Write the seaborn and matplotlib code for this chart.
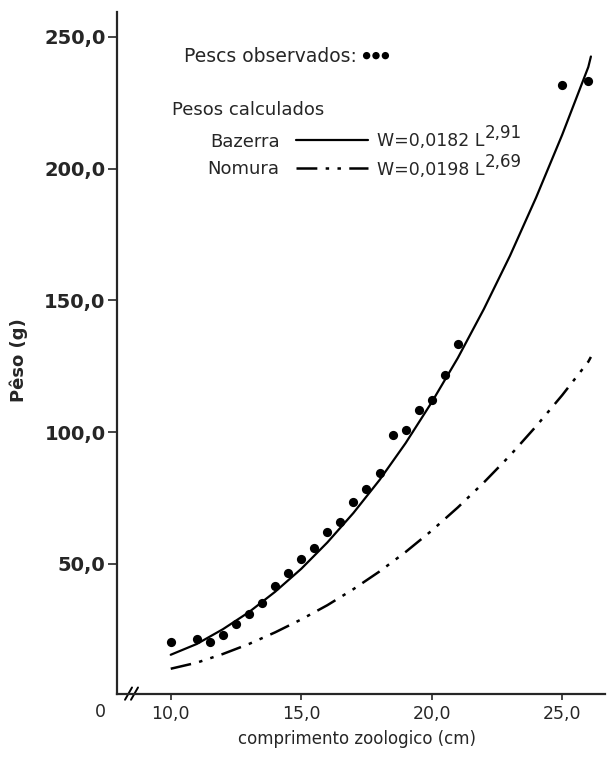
import matplotlib
matplotlib.use("Agg")
import matplotlib.pyplot as plt
import seaborn as sns

# observed fish (length in cm, weight in g)
obs_len = [10.0, 11.0, 11.5, 12.0, 12.5, 13.0, 13.5, 14.0, 14.5, 15.0, 15.5, 16.0,
           16.5, 17.0, 17.5, 18.0, 18.5, 19.0, 19.5, 20.0, 20.5, 21.0, 25.0, 26.0]
obs_peso = [20.3, 21.6, 20.4, 23.1, 27.2, 31.0, 35.3, 41.7, 46.7, 51.8, 56.0, 61.9,
            66.0, 73.6, 78.3, 84.4, 98.7, 100.6, 108.2, 112.2, 121.8, 133.3, 231.7, 233.2]

# calculated curves
curve_len = [10, 11, 12, 13, 14, 15, 16, 17, 18, 19, 20, 21, 22, 23, 24, 25, 26, 26.1]
bazerra = [15.5, 19.6, 25.2, 31.7, 39.4, 48.1, 58.1, 69.3, 81.8, 95.8, 111.3, 128.1,
           146.7, 166.9, 189.0, 212.8, 238.5, 242.5]
nomura = [10.2, 12.5, 15.8, 19.6, 24.0, 28.9, 34.3, 40.4, 47.1, 54.5, 62.6, 71.4,
          80.9, 91.1, 102.2, 114.0, 126.7, 128.5]

x_ticks = [10, 15, 20, 25]
x_ticklabels = ["10,0", "15,0", "20,0", "25,0"]
y_ticks = [50, 100, 150, 200, 250]
y_ticklabels = ["50,0", "100,0", "150,0", "200,0", "250,0"]

sns.set_style("ticks")
plt.rcParams["font.family"] = ["DejaVu Sans"]
plt.rcParams["lines.scale_dashes"] = False

W, H = 608, 759
fig = plt.figure(figsize=(W / 100, H / 100), dpi=100)
ax = fig.add_axes([116.7 / W, 64.7 / H, (605 - 116.7) / W, (747.3 - 64.7) / H])

sns.scatterplot(x=obs_len, y=obs_peso, ax=ax, color="black", s=44, linewidth=0)
sns.lineplot(x=curve_len, y=bazerra, ax=ax, color="black", lw=1.6, sort=False)
sns.lineplot(x=curve_len, y=nomura, ax=ax, color="black", lw=1.8, sort=False,
             linestyle=(0, (15, 6, 2.5, 6, 2.5, 6)))

ax.set_xlim(7.93, 26.64)
ax.set_ylim(0.5, 259.5)
sns.despine(ax=ax)
for s in ["left", "bottom"]:
    ax.spines[s].set_linewidth(1.6)

ax.set_xticks(x_ticks)
ax.set_xticklabels(x_ticklabels, fontsize=12.5)
ax.set_yticks(y_ticks)
ax.set_yticklabels(y_ticklabels, fontsize=14, fontweight="bold")
ax.tick_params(axis="y", direction="out", length=6.5, width=1.2, pad=1.5)
ax.tick_params(axis="x", direction="out", length=4, width=1.2, pad=3.5)

ax.set_xlabel("comprimento zoologico (cm)", fontsize=12)
ax.xaxis.set_label_coords(0.492, -0.052)
ax.set_ylabel("Pêso (g)", fontsize=13, fontweight="bold")
ax.yaxis.set_label_coords(-0.182, 0.49)

# "0" at the origin and the axis break
fig.text(100.7 / W, 1 - 711.7 / H, "0", fontsize=12.5, ha="center", va="center")
for dx in (0, 6):
    ax.plot([(125 + dx - 116.7) / 488.3, (132 + dx - 116.7) / 488.3],
            [-0.008, 0.010], transform=ax.transAxes, color="black", lw=1.4, clip_on=False)

# legends
sc = ax.collections[0]
leg1 = ax.legend(handles=[sc], labels=["Pescs observados:"], markerfirst=False,
                 scatterpoints=3, scatteryoffsets=[0.5], frameon=False,
                 loc="center right", bbox_to_anchor=(391 / W, 1 - 56.7 / H),
                 bbox_transform=fig.transFigure, borderpad=0, borderaxespad=0,
                 handletextpad=0.2, handlelength=1.6, markerscale=0.8, fontsize=13.5)
ax.add_artist(leg1)

ax.legend(handles=[ax.lines[0], ax.lines[1]], labels=["Bazerra", "Nomura"],
          markerfirst=False, frameon=False, loc="center right",
          bbox_to_anchor=(368 / W, 1 - 155.5 / H), bbox_transform=fig.transFigure,
          borderpad=0, borderaxespad=0, handletextpad=0.9, handlelength=4.0,
          labelspacing=0.55, fontsize=13)

fig.text(171.7 / W, 1 - 110 / H, "Pesos calculados", fontsize=13, va="center")

for yrow, main, sup in [(141, "W=0,0182 L", "2,91"), (170, "W=0,0198 L", "2,69")]:
    t = fig.text(376.7 / W, 1 - yrow / H, main, fontsize=12.5, va="center")
    ax.annotate(sup, xy=(1, 0.42), xycoords=t, xytext=(0.5, 0), textcoords="offset points",
                fontsize=12, ha="left", va="bottom")

fig.savefig("out.png", dpi=100)
